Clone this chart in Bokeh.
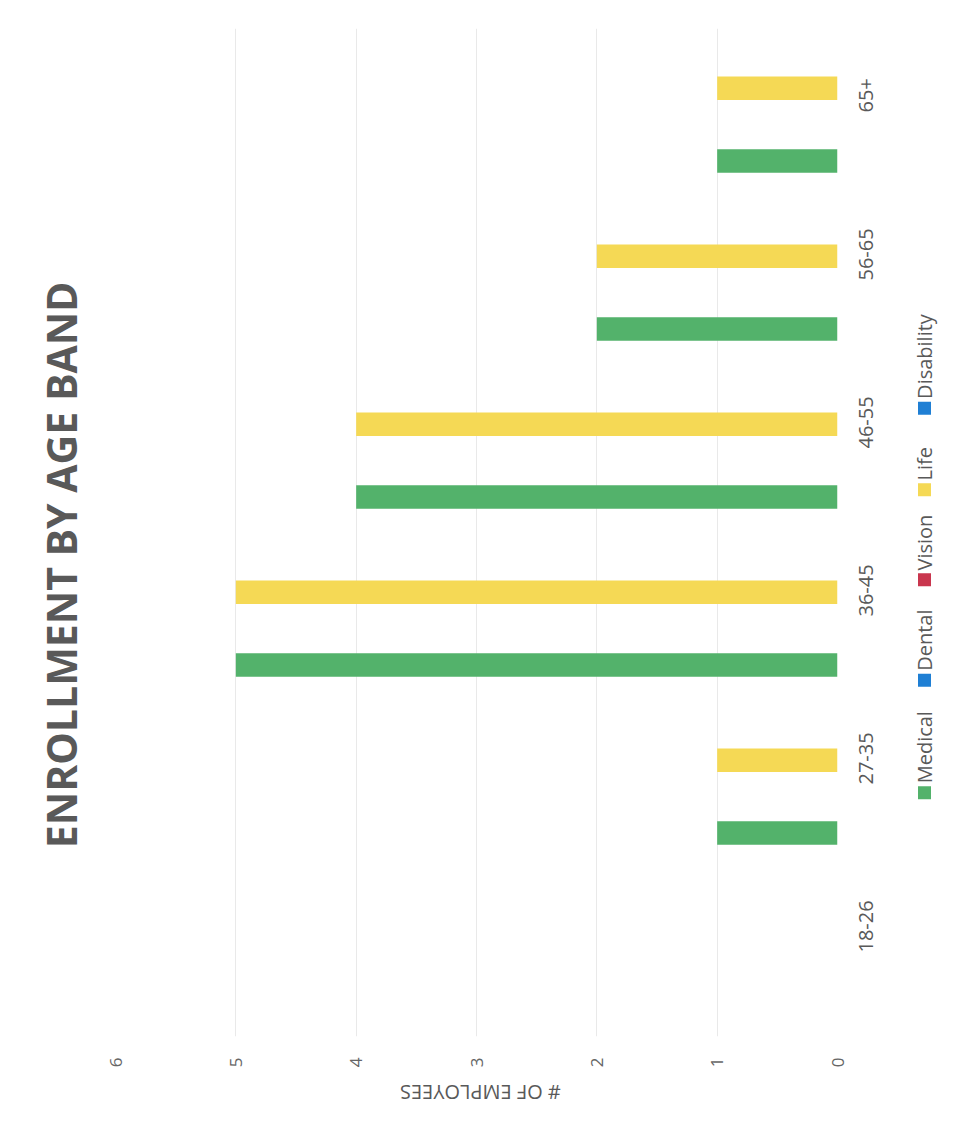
import math
from bokeh.plotting import figure
from bokeh.layouts import row, column
from bokeh.models import (FactorRange, Range1d, ColumnDataSource, FixedTicker,
                          LinearAxis, CategoricalAxis)
from bokeh.core.properties import value
from bokeh.transform import dodge
from bokeh.embed import file_html
from bokeh.resources import INLINE

# ---- data ----
age_bands = ["18-26", "27-35", "36-45", "46-55", "56-65", "65+"]
series = ["Medical", "Dental", "Vision", "Life", "Disability"]
medical = [0, 1, 5, 4, 2, 1]
dental = [0, 0, 0, 0, 0, 0]
vision = [0, 0, 0, 0, 0, 0]
life = [0, 1, 5, 4, 2, 1]
disability = [0, 0, 0, 0, 0, 0]
value_ticks = [0, 1, 2, 3, 4, 5, 6]
title_text = "ENROLLMENT BY AGE BAND"
axis_title = "# OF EMPLOYEES"
colors = ["#53b26b", "#1f7fd4", "#c9364e", "#f5d955", "#1f7fd4"]

values = [medical, dental, vision, life, disability]

W, H = 958, 1133
FONT = "Open Sans"
GREY = "#595959"
LIGHT = "#666666"

TOP_H = 1075          # height of the upper row
LEFT_W = 100          # title strip width
RIGHT_W = 58          # legend strip width
MAIN_W = W - LEFT_W - RIGHT_W
FL, FR, FT, FB = 115, 837, 28, 1036   # frame edges in page pixels


def blank(w, h):
    f = figure(width=w, height=h, output_backend="svg", toolbar_location=None,
               x_range=Range1d(0, w), y_range=Range1d(0, h),
               x_axis_location=None, y_axis_location=None,
               min_border=0, min_border_left=0, min_border_right=0,
               min_border_top=0, min_border_bottom=0)
    f.outline_line_color = None
    f.grid.grid_line_color = None
    f.background_fill_color = "white"
    f.border_fill_color = "white"
    return f


# ---- main chart ----
p = figure(width=MAIN_W, height=TOP_H, output_backend="svg", toolbar_location=None,
           x_range=Range1d(6, 0), y_range=FactorRange(*age_bands, range_padding=0),
           x_axis_location=None, y_axis_location=None,
           min_border_left=FL - LEFT_W, min_border_right=LEFT_W + MAIN_W - FR,
           min_border_top=FT, min_border_bottom=TOP_H - FB)
p.outline_line_color = None
p.background_fill_color = "white"
p.border_fill_color = "white"

step = 0.1446
for i, (name, vals, col) in enumerate(zip(series, values, colors)):
    src = ColumnDataSource(dict(age=age_bands, v=vals))
    p.hbar(y=dodge("age", (i - 2) * step, range=p.y_range), left=0, right="v",
           height=0.14, source=src, fill_color=col, line_color=None)

xa = LinearAxis(ticker=FixedTicker(ticks=value_ticks))
xa.axis_line_color = None
xa.major_tick_line_color = None
xa.minor_tick_line_color = None
xa.major_label_orientation = math.pi / 2
xa.major_label_text_font = FONT
xa.major_label_text_font_size = "17px"
xa.major_label_text_color = LIGHT
xa.major_label_standoff = 15
p.add_layout(xa, "below")

ya = CategoricalAxis()
ya.axis_line_color = None
ya.major_tick_line_color = None
ya.minor_tick_line_color = None
ya.major_label_orientation = math.pi / 2
ya.major_label_text_font = FONT
ya.major_label_text_font_size = "20px"
ya.major_label_text_color = GREY
ya.major_label_standoff = 22
p.add_layout(ya, "right")

p.xgrid.ticker = FixedTicker(ticks=value_ticks)
p.xgrid.grid_line_color = "#e9e9e9"
p.ygrid.grid_line_color = None

# ---- title strip (left) ----
t = blank(LEFT_W, TOP_H)
t.text(x=[60], y=[TOP_H - 572], text=[title_text], angle=math.pi / 2,
       text_align="center", text_baseline="middle",
       text_font=value(FONT), text_font_style="bold",
       text_font_size="41px", text_color=GREY)

# ---- legend strip (right) ----
lg = blank(RIGHT_W, TOP_H)
leg_y = [815, 695, 588, 492, 405]
lsrc = ColumnDataSource(dict(
    x=[24] * len(series),
    y=[TOP_H - v for v in leg_y],
    ty=[TOP_H - v + 10 for v in leg_y],
    name=series, color=colors))
lg.scatter(x="x", y="y", marker="square", size=13, fill_color="color",
           line_color=None, source=lsrc)
lg.text(x="x", y="ty", text="name", angle=math.pi / 2, source=lsrc,
        text_align="left", text_baseline="middle",
        text_font=value(FONT), text_font_size="20px", text_color=GREY)

# ---- axis-title strip (bottom, upside down) ----
BOT_H = H - TOP_H
b = blank(W, BOT_H)
b.text(x=[(FL + FR) / 2 + 4], y=[BOT_H - (1092 - TOP_H)], text=[axis_title],
       angle=math.pi, text_align="center", text_baseline="middle",
       text_font=value(FONT), text_font_size="20px", text_color=GREY)

layout = column(row(t, p, lg, spacing=0), b, spacing=0)
open("out.html", "w").write(file_html(layout, INLINE))
